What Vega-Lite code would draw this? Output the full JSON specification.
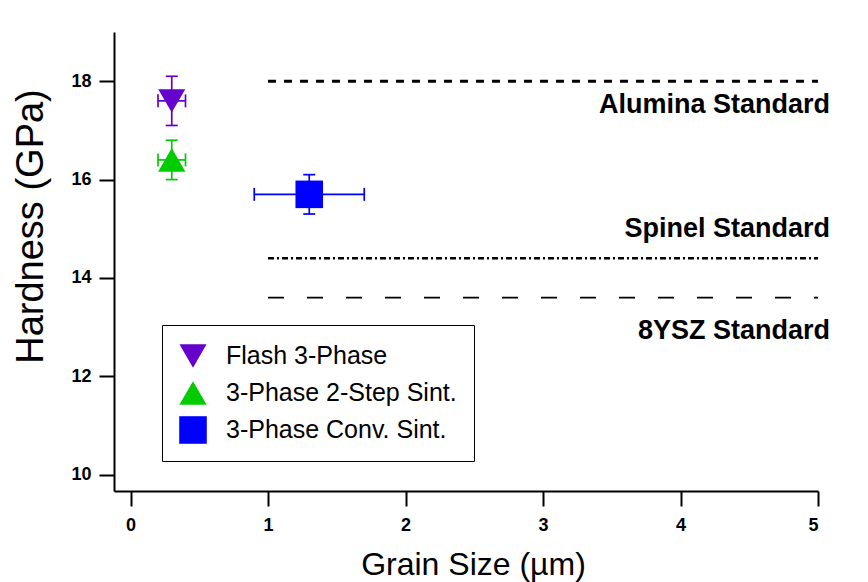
{
  "$schema": "https://vega.github.io/schema/vega-lite/v6.json",
  "width": 704,
  "height": 459,
  "autosize": {"type": "none"},
  "padding": {"left": 114, "top": 32, "right": 50, "bottom": 91},
  "background": "white",
  "config": {
    "view": {"stroke": null},
    "font": "Liberation Sans",
    "axis": {
      "grid": false,
      "domainColor": "black",
      "domainWidth": 2,
      "tickColor": "black",
      "tickWidth": 2,
      "tickSize": 15,
      "labelFont": "Liberation Sans",
      "labelFontWeight": "bold",
      "labelFontSize": 18,
      "labelColor": "black",
      "titleFont": "Liberation Sans",
      "titleFontWeight": "normal",
      "titleColor": "black"
    },
    "legend": {
      "strokeColor": "black",
      "fillColor": "white",
      "padding": 17,
      "symbolSize": 780,
      "symbolOpacity": 1,
      "symbolStrokeWidth": 0,
      "labelFont": "Liberation Sans",
      "labelFontSize": 25,
      "labelColor": "black",
      "labelLimit": 400,
      "labelOffset": 19,
      "rowPadding": 10
    }
  },
  "datasets": {
    "pts": [
      {"series": "Flash 3-Phase", "grain": 0.3, "grainLo": 0.2, "grainHi": 0.4, "hardness": 17.6, "hardLo": 17.1, "hardHi": 18.1},
      {"series": "3-Phase 2-Step Sint.", "grain": 0.3, "grainLo": 0.2, "grainHi": 0.4, "hardness": 16.4, "hardLo": 16.0, "hardHi": 16.8},
      {"series": "3-Phase Conv. Sint.", "grain": 1.3, "grainLo": 0.9, "grainHi": 1.7, "hardness": 15.7, "hardLo": 15.3, "hardHi": 16.1}
    ],
    "stds": [
      {"standard": "Alumina Standard", "from": 1, "to": 5, "hardness": 18.0},
      {"standard": "Spinel Standard", "from": 1, "to": 5, "hardness": 14.4},
      {"standard": "8YSZ Standard", "from": 1, "to": 5, "hardness": 13.6}
    ]
  },
  "layer": [
    {
      "data": {"name": "pts"},
      "mark": {"type": "point", "filled": true, "opacity": 1, "strokeWidth": 0},
      "encoding": {
        "x": {
          "field": "grain", "type": "quantitative",
          "scale": {"domain": [-0.12, 5], "nice": false, "zero": false},
          "axis": {
            "values": [0, 1, 2, 3, 4, 5], "format": "d", "labelPadding": 10,
            "title": "Grain Size (µm)", "titleFontSize": 32,
            "titleX": 359, "titleY": 83, "titleAlign": "center", "titleBaseline": "alphabetic"
          }
        },
        "y": {
          "field": "hardness", "type": "quantitative",
          "scale": {"domain": [9.67, 19], "nice": false, "zero": false},
          "axis": {
            "values": [10, 12, 14, 16, 18], "format": "d", "labelPadding": 8,
            "title": "Hardness (GPa)", "titleFontSize": 38,
            "titleAngle": 270, "titleX": -72, "titleY": 194, "titleAlign": "center", "titleBaseline": "alphabetic"
          }
        },
        "color": {
          "field": "series", "type": "nominal", "title": null,
          "scale": {"domain": ["Flash 3-Phase", "3-Phase 2-Step Sint.", "3-Phase Conv. Sint."], "range": ["#6600CC", "#00CC00", "#0000FF"]},
          "legend": {"orient": "none", "legendX": 48, "legendY": 293}
        },
        "shape": {
          "field": "series", "type": "nominal", "title": null,
          "scale": {"domain": ["Flash 3-Phase", "3-Phase 2-Step Sint.", "3-Phase Conv. Sint."], "range": ["triangle-down", "triangle-up", "square"]},
          "legend": {"orient": "none", "legendX": 48, "legendY": 293}
        },
        "size": {
          "field": "series", "type": "nominal", "legend": null,
          "scale": {"domain": ["Flash 3-Phase", "3-Phase 2-Step Sint.", "3-Phase Conv. Sint."], "range": [730, 760, 625]}
        }
      }
    },
    {
      "data": {"name": "pts"},
      "mark": {"type": "rule", "strokeWidth": 1.7},
      "encoding": {
        "x": {"field": "grain", "type": "quantitative"},
        "y": {"field": "hardLo", "type": "quantitative"},
        "y2": {"field": "hardHi"},
        "color": {"field": "series", "type": "nominal", "legend": null}
      }
    },
    {
      "data": {"name": "pts"},
      "mark": {"type": "tick", "orient": "horizontal", "size": 12, "thickness": 1.7, "opacity": 1},
      "encoding": {
        "x": {"field": "grain", "type": "quantitative"},
        "y": {"field": "hardHi", "type": "quantitative"},
        "color": {"field": "series", "type": "nominal", "legend": null}
      }
    },
    {
      "data": {"name": "pts"},
      "mark": {"type": "tick", "orient": "horizontal", "size": 12, "thickness": 1.7, "opacity": 1},
      "encoding": {
        "x": {"field": "grain", "type": "quantitative"},
        "y": {"field": "hardLo", "type": "quantitative"},
        "color": {"field": "series", "type": "nominal", "legend": null}
      }
    },
    {
      "data": {"name": "pts"},
      "mark": {"type": "rule", "strokeWidth": 1.7},
      "encoding": {
        "x": {"field": "grainLo", "type": "quantitative"},
        "x2": {"field": "grainHi"},
        "y": {"field": "hardness", "type": "quantitative"},
        "color": {"field": "series", "type": "nominal", "legend": null}
      }
    },
    {
      "data": {"name": "pts"},
      "mark": {"type": "tick", "orient": "vertical", "size": 13, "thickness": 1.7, "opacity": 1},
      "encoding": {
        "x": {"field": "grainLo", "type": "quantitative"},
        "y": {"field": "hardness", "type": "quantitative"},
        "color": {"field": "series", "type": "nominal", "legend": null}
      }
    },
    {
      "data": {"name": "pts"},
      "mark": {"type": "tick", "orient": "vertical", "size": 13, "thickness": 1.7, "opacity": 1},
      "encoding": {
        "x": {"field": "grainHi", "type": "quantitative"},
        "y": {"field": "hardness", "type": "quantitative"},
        "color": {"field": "series", "type": "nominal", "legend": null}
      }
    },
    {
      "data": {"name": "stds"},
      "transform": [{"filter": "datum.standard === 'Alumina Standard'"}],
      "layer": [
        {
          "mark": {"type": "rule", "color": "black", "strokeWidth": 3, "strokeDash": [8, 8]},
          "encoding": {
            "x": {"field": "from", "type": "quantitative"},
            "x2": {"field": "to"},
            "y": {"field": "hardness", "type": "quantitative"}
          }
        },
        {
          "mark": {"type": "text", "align": "right", "baseline": "alphabetic", "dx": 12, "dy": 32, "font": "Liberation Sans", "fontWeight": "bold", "fontSize": 27, "color": "black"},
          "encoding": {
            "x": {"field": "to", "type": "quantitative"},
            "y": {"field": "hardness", "type": "quantitative"},
            "text": {"field": "standard"}
          }
        }
      ]
    },
    {
      "data": {"name": "stds"},
      "transform": [{"filter": "datum.standard === 'Spinel Standard'"}],
      "layer": [
        {
          "mark": {"type": "rule", "color": "black", "strokeWidth": 2.5, "strokeDash": [6, 3, 2, 3]},
          "encoding": {
            "x": {"field": "from", "type": "quantitative"},
            "x2": {"field": "to"},
            "y": {"field": "hardness", "type": "quantitative"}
          }
        },
        {
          "mark": {"type": "text", "align": "right", "baseline": "alphabetic", "dx": 12, "dy": -21, "font": "Liberation Sans", "fontWeight": "bold", "fontSize": 27, "color": "black"},
          "encoding": {
            "x": {"field": "to", "type": "quantitative"},
            "y": {"field": "hardness", "type": "quantitative"},
            "text": {"field": "standard"}
          }
        }
      ]
    },
    {
      "data": {"name": "stds"},
      "transform": [{"filter": "datum.standard === '8YSZ Standard'"}],
      "layer": [
        {
          "mark": {"type": "rule", "color": "black", "strokeWidth": 1.7, "strokeDash": [16, 23]},
          "encoding": {
            "x": {"field": "from", "type": "quantitative"},
            "x2": {"field": "to"},
            "y": {"field": "hardness", "type": "quantitative"}
          }
        },
        {
          "mark": {"type": "text", "align": "right", "baseline": "alphabetic", "dx": 12, "dy": 41, "font": "Liberation Sans", "fontWeight": "bold", "fontSize": 27, "color": "black"},
          "encoding": {
            "x": {"field": "to", "type": "quantitative"},
            "y": {"field": "hardness", "type": "quantitative"},
            "text": {"field": "standard"}
          }
        }
      ]
    }
  ]
}
